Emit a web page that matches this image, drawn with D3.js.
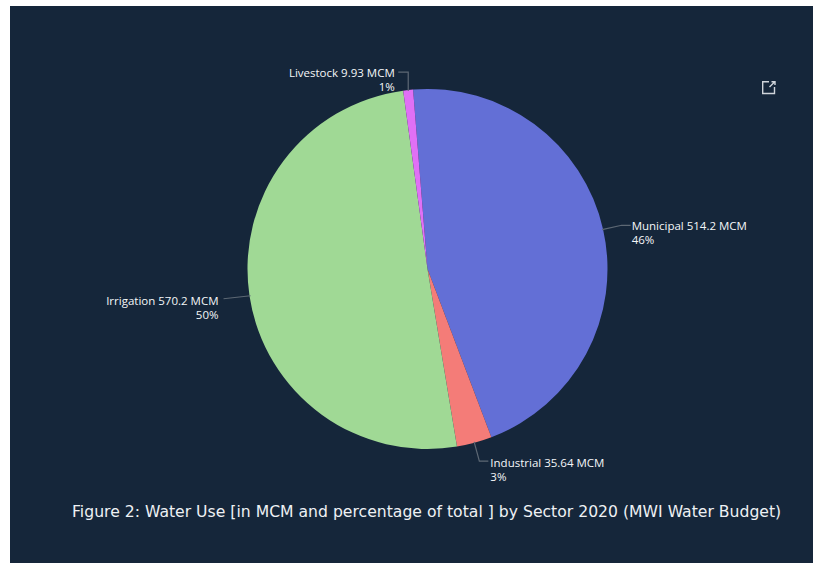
<!DOCTYPE html>
<html><head><meta charset="utf-8">
<script src="https://cdnjs.cloudflare.com/ajax/libs/d3/7.8.5/d3.min.js"></script>
<style>html,body{margin:0;padding:0;background:#fff}svg{display:block}</style>
</head><body><svg id="c" width="813" height="563"></svg>
<script>
const sectors = ["Municipal","Industrial","Irrigation","Livestock"];
const values = [514.2,35.64,570.2,9.93];
const valueLabels = ["514.2","35.64","570.2","9.93"];
const percents = ["46%","3%","50%","1%"];
const colors = ["#636fd6","#f47c78","#a0d995","#e070f5"];
const title = "Figure 2: Water Use [in MCM and percentage of total ] by Sector 2020 (MWI Water Budget)";

const svg = d3.select("#c");
svg.append("rect").attr("x",10).attr("y",6).attr("width",803).attr("height",557).attr("fill","#15263a");

const cx=427.5, cy=269, R=180;
const rad=Math.PI/180, start=-4.6*rad;
const pie=d3.pie().sort(null).startAngle(start).endAngle(start+2*Math.PI);
const arcs=pie(values);
const arc=d3.arc().innerRadius(0).outerRadius(R);
const g=svg.append("g").attr("transform",`translate(${cx},${cy})`);
g.selectAll("path.s").data(arcs).join("path").attr("class","s")
  .attr("d",arc).attr("fill",(d,i)=>colors[i]);

const layout=[
 {dr:19,h:9,anchor:"start",tx:1,dy:5},
 {dr:19,h:9,anchor:"start",tx:2,dy:5.5},
 {dr:27,h:0,anchor:"end",tx:-5,dy:6},
 {dr:18,h:-10,anchor:"end",tx:-3.5,dy:5}
];
const lineGap=14;
arcs.forEach((d,i)=>{
  const a=(d.startAngle+d.endAngle)/2, L=layout[i];
  const p=r=>[r*Math.sin(a),-r*Math.cos(a)];
  const p0=p(R-1), p1=p(R+L.dr);
  let p2;
  if(i===2){p1[1]=p0[1]+3;p1[0]=p0[0]-L.dr;p2=p1;}
  else if(i===3){p1[0]=p0[0];p2=[p1[0]+L.h,p1[1]];}
  else {p2=[p1[0]+L.h,p1[1]];}
  g.append("polyline").attr("points",[p0,p1,p2].map(q=>q.join(",")).join(" "))
    .attr("fill","none").attr("stroke","#5d6874").attr("stroke-width",1.2);
  const t=g.append("text").attr("text-anchor",L.anchor)
    .attr("font-family","'Open Sans',sans-serif").attr("font-size",11.5).attr("fill","#f4f6f8")
    .attr("transform",`translate(${p2[0]+L.tx},${p2[1]+L.dy})`);
  t.append("tspan").attr("x",0).attr("y",0).text(`${sectors[i]} ${valueLabels[i]} MCM`);
  t.append("tspan").attr("x",0).attr("y",lineGap).text(percents[i]);
});

const ic=svg.append("g").attr("fill","none").attr("stroke","#cfd4da").attr("stroke-width",1.4);
ic.append("path").attr("d","M769 81.7H762.7V93.5H774.5V87");
ic.append("path").attr("d","M769.5 87L774.5 82M771.5 81.7H775V85");

svg.append("text").attr("x",72).attr("y",516.5).attr("font-family","'DejaVu Sans',sans-serif")
  .attr("font-size",15.65).attr("fill","#eef1f4").text(title);
</script></body></html>
